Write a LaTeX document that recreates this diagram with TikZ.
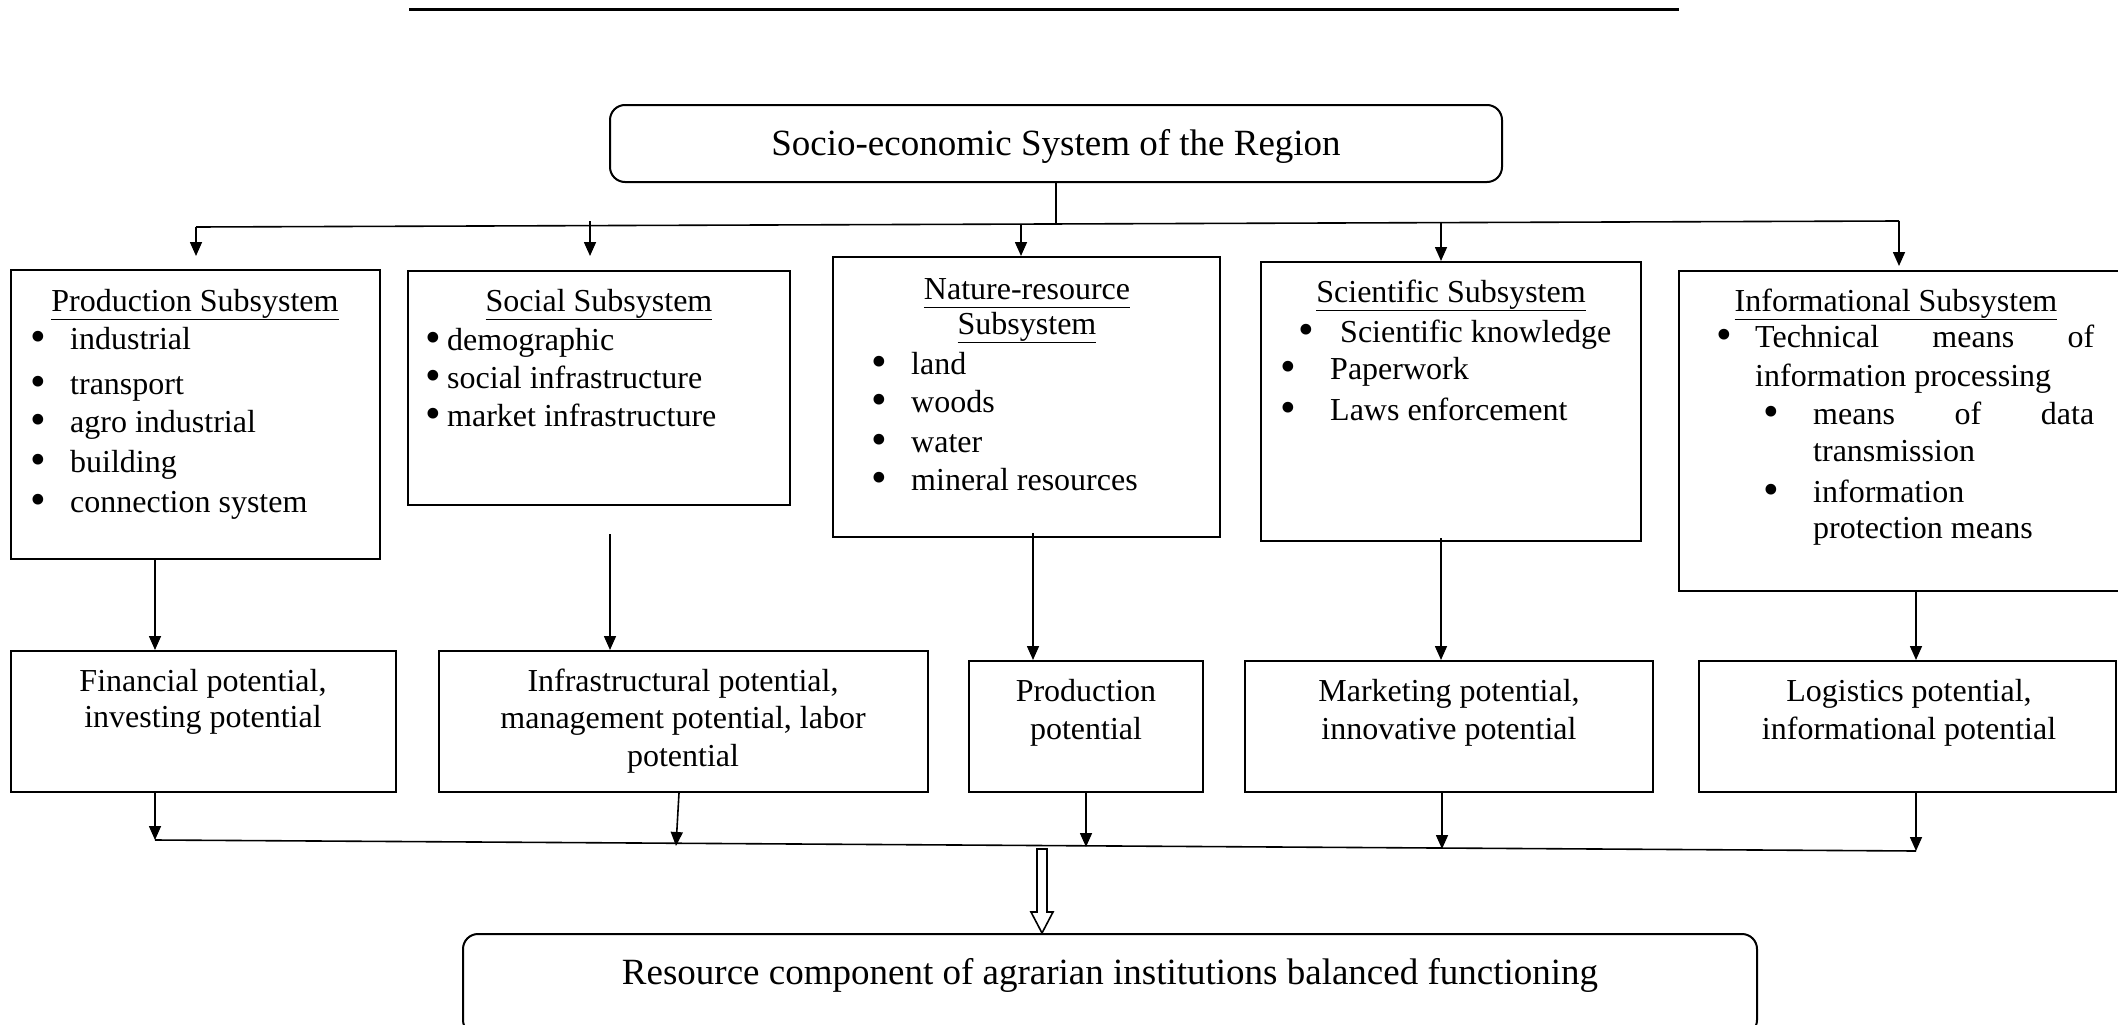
\documentclass[tikz,border=0pt]{standalone}
\usepackage{fontspec}
\usepackage{graphicx}
\setmainfont{Liberation Serif}
\usetikzlibrary{arrows.meta,calc}
\newcommand\ulx[1]{{\setbox0=\hbox{#1}\rlap{\smash{\raisebox{-9.2pt}{\rule{\wd0}{1.8pt}}}}\box0}}
\newcommand\bdot{\smash{\raisebox{-0.07em}{\scalebox{1.4}{\textbullet}}}}
\newcommand\bul[2]{\makebox[#1][l]{\hspace{-0.07em}\bdot}#2}
\tikzset{
  box/.style={draw, line width=2pt, inner sep=0pt},
  rbox/.style={box, rounded corners=15pt},
  link/.style={line width=1.6pt},
  conn/.style={line width=1.6pt, -{Triangle[length=14pt,width=12pt]}},
  tx/.style={inner sep=0pt, yshift=-7pt, font=\fontsize{32}{38}\selectfont},
  txl/.style={tx, anchor=mid west},
  txc/.style={tx, anchor=mid},
  big/.style={font=\fontsize{37}{44}\selectfont}
}
\begin{document}
\begin{tikzpicture}[x=1pt,y=-1pt]
\useasboundingbox (0,0) rectangle (2118,1025);
\clip (0,0) rectangle (2118,1025);
% header rule
\coordinate (hl) at (409,10);
\coordinate (hr) at (1679,10);
\draw[line width=3pt] (hl) -- (hr);

% top box
\node[rbox, big, minimum width=892pt, minimum height=77pt, text height=26pt, text depth=2.5pt] (socio) at (1056,143.5) {Socio-economic System of the Region};

% subsystem boxes
\node[box, minimum width=369pt, minimum height=289pt] (prod) at (195.5,414.5) {};
\node[box, minimum width=382pt, minimum height=234pt] (soc) at (599,388) {};
\node[box, minimum width=387pt, minimum height=280pt] (nat) at (1026.5,397) {};
\node[box, minimum width=380pt, minimum height=279pt] (sci) at (1451,401.5) {};
\node[box, minimum width=461pt, minimum height=320pt] (inf) at (1909.5,431) {};

% potential boxes
\node[box, minimum width=385pt, minimum height=141pt] (fin) at (203.5,721.5) {};
\node[box, minimum width=489pt, minimum height=141pt] (infra) at (683.5,721.5) {};
\node[box, minimum width=234pt, minimum height=131pt] (pp) at (1086,726.5) {};
\node[box, minimum width=408pt, minimum height=131pt] (mk) at (1449,726.5) {};
\node[box, minimum width=417pt, minimum height=131pt] (lg) at (1907.5,726.5) {};

% bottom box
\node[rbox, big, minimum width=1294pt, minimum height=101pt, text height=26pt, text depth=27pt] (res) at (1110,984.5) {Resource component of agrarian institutions balanced functioning};

% texts: production subsystem
\node[txc] (prodT) at (195,302) {\ulx{Production Subsystem}};
\node[txl] (prod1) at (32.4,340) {\bul{37.6pt}{industrial}};
\node[txl] (prod2) at (32.4,385) {\bul{37.6pt}{transport}};
\node[txl] (prod3) at (32.4,423) {\bul{37.6pt}{agro industrial}};
\node[txl] (prod4) at (32.4,463) {\bul{37.6pt}{building}};
\node[txl] (prod5) at (32.4,503) {\bul{37.6pt}{connection system}};
% social
\node[txc] (socT) at (599,302) {\ulx{Social Subsystem}};
\node[txl] (soc1) at (427.4,341) {\bul{19.6pt}{demographic}};
\node[txl] (soc2) at (427.4,379) {\bul{19.6pt}{social infrastructure}};
\node[txl] (soc3) at (427.4,417) {\bul{19.6pt}{market infrastructure}};
% nature
\node[txc] (natT1) at (1027,290) {\ulx{Nature-resource}};
\node[txc] (natT2) at (1027,325) {\ulx{Subsystem}};
\node[txl] (nat1) at (873.4,365) {\bul{37.6pt}{land}};
\node[txl] (nat2) at (873.4,403) {\bul{37.6pt}{woods}};
\node[txl] (nat3) at (873.4,443) {\bul{37.6pt}{water}};
\node[txl] (nat4) at (873.4,481) {\bul{37.6pt}{mineral resources}};
% scientific
\node[txc] (sciT) at (1451,293) {\ulx{Scientific Subsystem}};
\node[txl] (sci1) at (1300.4,333) {\bul{39.6pt}{Scientific knowledge}};
\node[txl] (sci2) at (1282.4,370) {\bul{47.6pt}{Paperwork}};
\node[txl] (sci3) at (1282.4,411) {\bul{47.6pt}{Laws enforcement}};
% informational
\node[txc] (infT) at (1896,302) {\ulx{Informational Subsystem}};
\node[txl] (inf1) at (1718.4,338) {\bul{36.6pt}{\makebox[339pt][l]{Technical\hfill means\hfill of}}};
\node[txl] (inf2) at (1755,377) {information processing};
\node[txl] (inf3) at (1765.4,415) {\bul{47.6pt}{\makebox[281pt][l]{means\hfill of\hfill data}}};
\node[txl] (inf4) at (1813,452) {transmission};
\node[txl] (inf5) at (1765.4,493) {\bul{47.6pt}{information}};
\node[txl] (inf6) at (1813,529) {protection means};
% potentials
\node[txc] (fin1) at (203,682) {Financial potential,};
\node[txc] (fin2) at (203,718) {investing potential};
\node[txc] (infra1) at (683,682) {Infrastructural potential,};
\node[txc] (infra2) at (683,719) {management potential, labor};
\node[txc] (infra3) at (683,757) {potential};
\node[txc] (pp1) at (1086,692) {Production};
\node[txc] (pp2) at (1086,730) {potential};
\node[txc] (mk1) at (1449,692) {Marketing potential,};
\node[txc] (mk2) at (1449,730) {innovative potential};
\node[txc] (lg1) at (1909,692) {Logistics potential,};
\node[txc] (lg2) at (1909,730) {informational potential};

% top distribution bus
\coordinate (t1) at (196,227);
\coordinate (t2) at (590,221);
\coordinate (t3) at (1021,224);
\coordinate (t4) at (1441,223);
\coordinate (t5) at (1899,221);
\coordinate (tj) at (1056,224);
\draw[link] (t1) -- (t5);
\draw[link] (socio.south) -- (tj);
\draw[conn, shorten >=13pt] (t1) -- (t1 |- prod.north);
\draw[conn, shorten >=14pt] (t2) -- (t2 |- soc.north);
\draw[conn] (t3) -- (t3 |- nat.north);
\draw[conn] (t4) -- (t4 |- sci.north);
\draw[conn, shorten >=4pt] (t5) -- (t5 |- inf.north);

% subsystem -> potential
\coordinate (m1) at (155,0);
\coordinate (m2) at (610,0);
\coordinate (m3) at (1033,0);
\coordinate (m4) at (1441,0);
\coordinate (m5) at (1916,0);
\draw[conn] (prod.south -| m1) -- (fin.north -| m1);
\draw[conn, shorten <=28pt] (soc.south -| m2) -- (infra.north -| m2);
\draw[conn, shorten <=-5pt] (nat.south -| m3) -- (pp.north -| m3);
\draw[conn, shorten <=-4pt] (sci.south -| m4) -- (mk.north -| m4);
\draw[conn] (inf.south -| m5) -- (lg.north -| m5);

% bottom bus
\coordinate (b1) at (155,840);
\coordinate (b2) at (676,846);
\coordinate (b3) at (1086,847);
\coordinate (b4) at (1442,849);
\coordinate (b5) at (1916,851);
\draw[link] (b1) -- (b5);
\draw[conn] (fin.south -| b1) -- (b1);
\draw[conn] ([xshift=-4.5pt]infra.south) -- (b2);
\draw[conn] (pp.south -| b3) -- (b3);
\draw[conn] (mk.south -| b4) -- (b4);
\draw[conn] (lg.south -| b5) -- (b5);

% hollow arrow
\coordinate (h) at (1042,849);
\draw[line width=1.6pt, fill=white, line join=miter]
  ($(h)+(-5,0)$) -- ($(h)+(5,0)$) -- ($(h)+(5,63)$) -- ($(h)+(11,63)$)
  -- (h |- res.north) -- ($(h)+(-11,63)$) -- ($(h)+(-5,63)$) -- cycle;
\end{tikzpicture}
\end{document}
